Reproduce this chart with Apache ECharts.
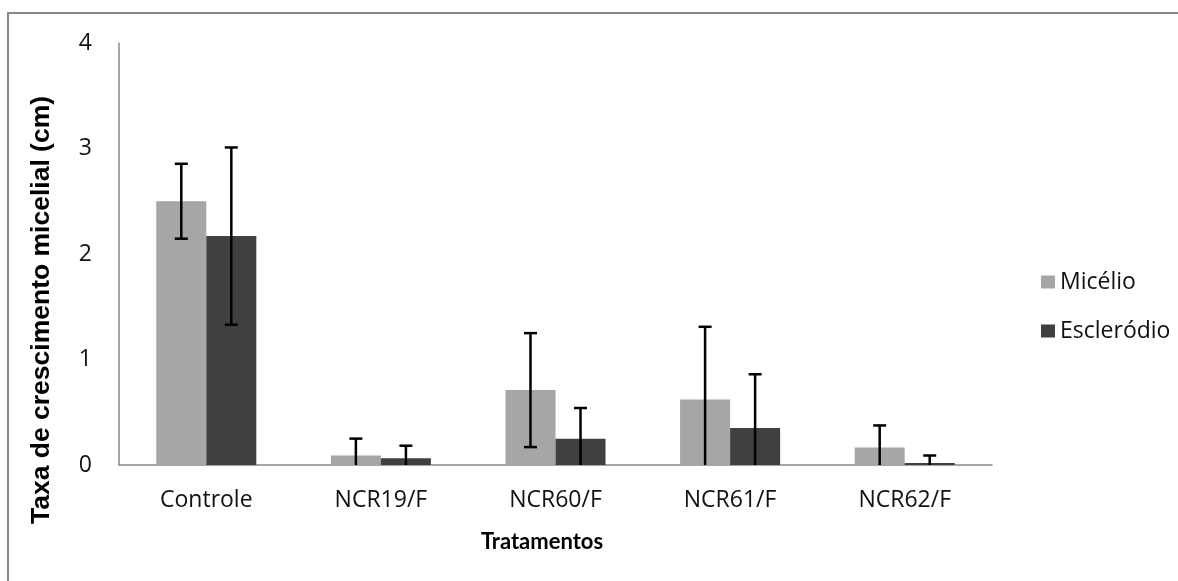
<!DOCTYPE html>
<html>
<head>
<meta charset="utf-8">
<script src="https://cdn.jsdelivr.net/npm/echarts@6/dist/echarts.min.js"></script>
<style>
html,body{margin:0;padding:0;background:#fff;}
#chart{width:1178px;height:581px;}
</style>
</head>
<body>
<div id="chart"></div>
<script>
const categories = ['Controle', 'NCR19/F', 'NCR60/F', 'NCR61/F', 'NCR62/F'];
const micelio = [2.50, 0.09, 0.71, 0.62, 0.165];
const micelioErr = [0.355, 0.16, 0.54, 0.69, 0.21];
const esclerodio = [2.17, 0.063, 0.25, 0.35, 0.02];
const esclerodioErr = [0.84, 0.12, 0.29, 0.51, 0.07];
const yTicks = [0, 1, 2, 3, 4];

const FONT = '"Open Sans"';
const BAR_GAP_CAT = 0.427;
const halfOffset = (1 - BAR_GAP_CAT) / 4;

function errData(vals, errs, side) {
  return vals.map((v, i) => [i, v, errs[i], side]);
}

function renderErr(params, api) {
  const cat = api.value(0), v = api.value(1), e = api.value(2), side = api.value(3);
  const band = api.size([1, 0])[0];
  const cx = api.coord([cat, 0])[0] + side * band * halfOffset;
  const yTop = api.coord([cat, v + e])[1];
  const low = v - e;
  const yBot = api.coord([cat, Math.max(0, low)])[1];
  const cap = 6.5;
  const style = { stroke: '#000', lineWidth: 2.5 };
  const children = [
    { type: 'line', shape: { x1: cx, y1: yTop, x2: cx, y2: yBot }, style },
    { type: 'line', shape: { x1: cx - cap, y1: yTop, x2: cx + cap, y2: yTop }, style }
  ];
  if (low > 0) {
    children.push({ type: 'line', shape: { x1: cx - cap, y1: yBot, x2: cx + cap, y2: yBot }, style });
  }
  return { type: 'group', children };
}

const chart = echarts.init(document.getElementById('chart'));
chart.setOption({
  animation: false,
  backgroundColor: '#fff',
  grid: { left: 119, right: 186, top: 43, bottom: 116, containLabel: false },
  legend: {
    orient: 'vertical',
    left: 1036,
    top: 264,
    itemWidth: 14,
    itemHeight: 13,
    itemGap: 23,
    icon: 'rect',
    textStyle: { fontFamily: FONT, fontSize: 23, color: '#111', lineHeight: 26 },
    data: ['Micélio', 'Escleródio']
  },
  graphic: [
    { type: 'rect', shape: { x: 8, y: 13, width: 1300, height: 700 }, style: { fill: 'none', stroke: '#888', lineWidth: 2 }, silent: true },
    { type: 'text', x: 42, y: 310, rotation: Math.PI / 2, style: { text: 'Taxa de crescimento micelial (cm)', font: 'bold 26.5px "Liberation Sans", Arial', fill: '#000', align: 'center', verticalAlign: 'middle' } },
    { type: 'text', x: 542, y: 542, style: { text: 'Tratamentos', font: 'bold 22px Lato', fill: '#000', align: 'center', verticalAlign: 'middle' } }
  ],
  xAxis: {
    type: 'category',
    data: categories,
    axisLine: { lineStyle: { color: '#888', width: 1.5 } },
    axisTick: { show: false },
    axisLabel: { fontFamily: FONT, fontSize: 23, color: '#111', margin: 24 }
  },
  yAxis: {
    type: 'value',
    min: yTicks[0],
    max: yTicks[yTicks.length - 1],
    interval: 1,
    axisLine: { show: true, lineStyle: { color: '#888', width: 1.5 } },
    axisTick: { show: false },
    splitLine: { show: false },
    axisLabel: { fontFamily: FONT, fontSize: 23, color: '#111', margin: 27 }
  },
  series: [
    { name: 'Micélio', type: 'bar', data: micelio, barGap: '0%', barCategoryGap: (BAR_GAP_CAT * 100) + '%', itemStyle: { color: '#a6a6a6' } },
    { name: 'Escleródio', type: 'bar', data: esclerodio, barGap: '0%', barCategoryGap: (BAR_GAP_CAT * 100) + '%', itemStyle: { color: '#404040' } },
    { name: 'errM', type: 'custom', renderItem: renderErr, data: errData(micelio, micelioErr, -1), z: 10, encode: { x: 0, y: 1 } },
    { name: 'errE', type: 'custom', renderItem: renderErr, data: errData(esclerodio, esclerodioErr, 1), z: 10, encode: { x: 0, y: 1 } }
  ]
});
</script>
</body>
</html>
